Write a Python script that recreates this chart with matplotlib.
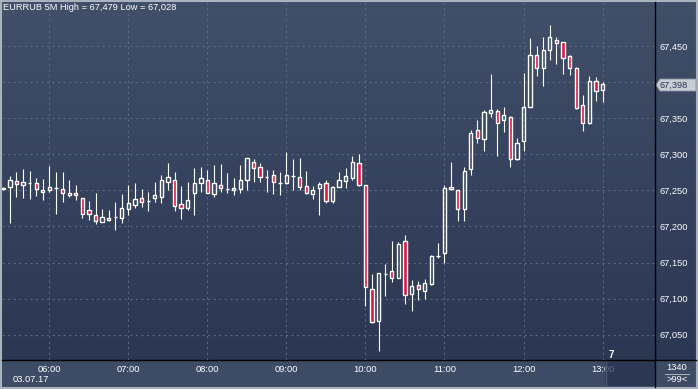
import numpy as np
import matplotlib
matplotlib.use("Agg")
import matplotlib.pyplot as plt
from matplotlib.patches import Rectangle, Polygon
from matplotlib.colors import LinearSegmentedColormap

W, H = 698, 389

# 5 minute candles, 05:25 .. 13:00
opens = [67.252, 67.255, 67.263, 67.257, 67.260, 67.260, 67.248, 67.251, 67.253, 67.252,
         67.244, 67.247, 67.239, 67.223, 67.216, 67.206, 67.209, 67.213, 67.212, 67.224,
         67.230, 67.239, 67.235, 67.239, 67.241, 67.262, 67.264, 67.231, 67.226, 67.247,
         67.260, 67.264, 67.245, 67.257, 67.252, 67.250, 67.252, 67.265, 67.289, 67.282,
         67.268, 67.271, 67.260, 67.260, 67.270, 67.268, 67.256, 67.245, 67.253, 67.260,
         67.235, 67.255, 67.263, 67.267, 67.288, 67.257, 67.113, 67.069, 67.134, 67.138,
         67.129, 67.180, 67.106, 67.119, 67.111, 67.120, 67.159, 67.163, 67.254, 67.250,
         67.224, 67.279, 67.333, 67.321, 67.357, 67.360, 67.347, 67.352, 67.293, 67.318,
         67.366, 67.438, 67.420, 67.445, 67.459, 67.455, 67.436, 67.419, 67.368, 67.344,
         67.401, 67.389]
highs = [67.254, 67.270, 67.276, 67.280, 67.277, 67.267, 67.266, 67.284, 67.276, 67.276,
         67.265, 67.258, 67.240, 67.235, 67.247, 67.224, 67.223, 67.234, 67.245, 67.258,
         67.260, 67.252, 67.248, 67.261, 67.271, 67.288, 67.275, 67.256, 67.262, 67.281,
         67.282, 67.278, 67.285, 67.287, 67.274, 67.267, 67.285, 67.295, 67.293, 67.288,
         67.278, 67.278, 67.275, 67.303, 67.294, 67.295, 67.277, 67.256, 67.262, 67.265,
         67.256, 67.276, 67.281, 67.297, 67.300, 67.257, 67.134, 67.135, 67.148, 67.180,
         67.178, 67.188, 67.126, 67.124, 67.127, 67.160, 67.177, 67.258, 67.289, 67.250,
         67.283, 67.333, 67.347, 67.361, 67.411, 67.363, 67.365, 67.353, 67.322, 67.413,
         67.461, 67.450, 67.462, 67.479, 67.463, 67.456, 67.438, 67.421, 67.382, 67.409,
         67.407, 67.400]
lows = [67.250, 67.205, 67.241, 67.240, 67.238, 67.242, 67.237, 67.248, 67.217, 67.234,
        67.241, 67.237, 67.212, 67.209, 67.204, 67.206, 67.208, 67.195, 67.205, 67.216,
        67.225, 67.227, 67.221, 67.234, 67.233, 67.250, 67.221, 67.210, 67.223, 67.216,
        67.248, 67.246, 67.241, 67.248, 67.246, 67.244, 67.246, 67.251, 67.262, 67.261,
        67.248, 67.245, 67.243, 67.259, 67.251, 67.250, 67.245, 67.238, 67.216, 67.233,
        67.233, 67.254, 67.253, 67.265, 67.256, 67.090, 67.066, 67.028, 67.103, 67.123,
        67.129, 67.092, 67.083, 67.098, 67.100, 67.119, 67.156, 67.150, 67.250, 67.207,
        67.208, 67.272, 67.315, 67.305, 67.351, 67.298, 67.331, 67.283, 67.292, 67.305,
        67.365, 67.409, 67.395, 67.430, 67.425, 67.411, 67.410, 67.363, 67.332, 67.342,
        67.374, 67.373]
closes = [67.253, 67.264, 67.259, 67.261, 67.260, 67.252, 67.251, 67.254, 67.253, 67.247,
          67.247, 67.244, 67.217, 67.217, 67.207, 67.213, 67.212, 67.213, 67.225, 67.233,
          67.238, 67.234, 67.235, 67.243, 67.264, 67.268, 67.228, 67.225, 67.237, 67.260,
          67.267, 67.247, 67.260, 67.253, 67.252, 67.253, 67.264, 67.295, 67.281, 67.268,
          67.268, 67.261, 67.260, 67.271, 67.270, 67.255, 67.246, 67.250, 67.259, 67.235,
          67.255, 67.264, 67.270, 67.289, 67.257, 67.116, 67.068, 67.135, 67.134, 67.129,
          67.176, 67.105, 67.118, 67.113, 67.121, 67.159, 67.159, 67.253, 67.252, 67.224,
          67.277, 67.329, 67.322, 67.358, 67.361, 67.344, 67.355, 67.293, 67.315, 67.365,
          67.437, 67.419, 67.444, 67.462, 67.454, 67.434, 67.419, 67.364, 67.343, 67.401,
          67.388, 67.398]

hour_index = [7, 19, 31, 43, 55, 67, 79, 91]
hour_labels = ["06:00", "07:00", "08:00", "09:00", "10:00", "11:00", "12:00", "13:00"]
price_ticks = [67.05, 67.10, 67.15, 67.20, 67.25, 67.30, 67.35, 67.40, 67.45]
date_label = "03.07.17"
title = "EURRUB 5M High = 67,479 Low = 67,028"

RED = "#e0163f"
FS = 6.7


def box(x0, y0, x1, y1):
    # pixel box (top-left origin) -> figure fraction
    return [x0 / W, 1 - y1 / H, (x1 - x0) / W, (y1 - y0) / H]


def fmt(p):
    return f"{p:.3f}".replace(".", ",")


plt.rcParams['font.family'] = ['Liberation Sans', 'DejaVu Sans']
fig = plt.figure(figsize=(W / 100, H / 100), dpi=100)

# background, drawn in pixel coordinates
bg = fig.add_axes([0, 0, 1, 1])
bg.set_xlim(0, W)
bg.set_ylim(H, 0)
bg.axis('off')
cmap = LinearSegmentedColormap.from_list("bg", ["#414f69", "#2a3551"])
grad = np.linspace(0, 1, 256).reshape(-1, 1)
bg.imshow(grad, aspect='auto', cmap=cmap, extent=[0, W, H, 0], zorder=0)
bg.add_patch(Rectangle((0, 360), W, H - 360, facecolor="#3e4b65", edgecolor='none', zorder=1))
bg.add_patch(Rectangle((1, 1), W - 2, H - 2, facecolor='none', edgecolor='#aab2bf', lw=1.5, zorder=4))

# main chart
ax = fig.add_axes(box(2, 2, 655, 360))
ax.set_facecolor('none')
ax.set_xlim(-0.2, 98.97)
ax.set_ylim(67.015, 67.511)
for s in ax.spines.values():
    s.set_visible(False)

# the 67,400 label is covered by the last price tag
last = closes[-1]
ax.set_yticks(price_ticks)
ax.set_yticklabels(["" if abs(p - last) < 0.02 else fmt(p) for p in price_ticks])
ax.set_xticks(hour_index)
ax.set_xticklabels(hour_labels)
ax.yaxis.tick_right()
ax.tick_params(length=0, colors='white', labelsize=FS)
ax.tick_params(axis='y', pad=3)
ax.tick_params(axis='x', pad=3.5)
ax.grid(True, color='#5a6782', linestyle=(0, (2, 3)), linewidth=0.8)
ax.set_axisbelow(True)

bw = 0.5
for i in range(len(opens)):
    o, hi, lo, c = opens[i], highs[i], lows[i], closes[i]
    top, bot = max(o, c), min(o, c)
    ax.plot([i, i], [top, hi], color='white', lw=0.8, solid_capstyle='butt', zorder=2)
    ax.plot([i, i], [lo, bot], color='white', lw=0.8, solid_capstyle='butt', zorder=2)
    face = RED if c < o else 'none'
    ax.add_patch(Rectangle((i - bw / 2, bot), bw, top - bot, facecolor=face,
                           edgecolor='white', lw=1.0, zorder=3))

# scroll box over the last time label, panel separators on top
ov = fig.add_axes([0, 0, 1, 1])
ov.set_xlim(0, W)
ov.set_ylim(H, 0)
ov.axis('off')
ov.add_patch(Rectangle((605, 361), 50, 25, facecolor="#27324e", edgecolor='none', alpha=0.75))
ov.plot([606, 606], [361, 386], color='#56627a', lw=0.8)
ov.plot([655, 655], [1.5, 387], color='black', lw=1.0)
ov.plot([2, 696], [360, 360], color='black', lw=1.0)

# texts
fig.text(3 / W, 1 - 8 / H, title, color='white', fontsize=FS, va='center', ha='left')
fig.text(13 / W, 1 - 380 / H, date_label, color='white', fontsize=FS, va='center', ha='left')
ov.text(611, 355, "7", color='white', fontsize=7, fontweight='bold', ha='center', va='center')

# last price tag
ov.add_patch(Polygon([(656, 85), (660, 79), (696, 79), (696, 91), (660, 91)],
                     closed=True, facecolor='#c9ced6', edgecolor='#8a92a2', lw=0.6))
ov.text(660, 85.5, fmt(last), color='#2b3552', fontsize=FS, ha='left', va='center')

# bottom right corner
ov.text(677, 367.5, "1340", color='white', fontsize=FS, ha='center', va='center')
ov.plot([665, 689], [373.5, 373.5], color='#c0c6d0', lw=0.6)
ov.text(677, 380, ">99<", color='white', fontsize=FS, ha='center', va='center')

fig.savefig("out.png", dpi=100)
